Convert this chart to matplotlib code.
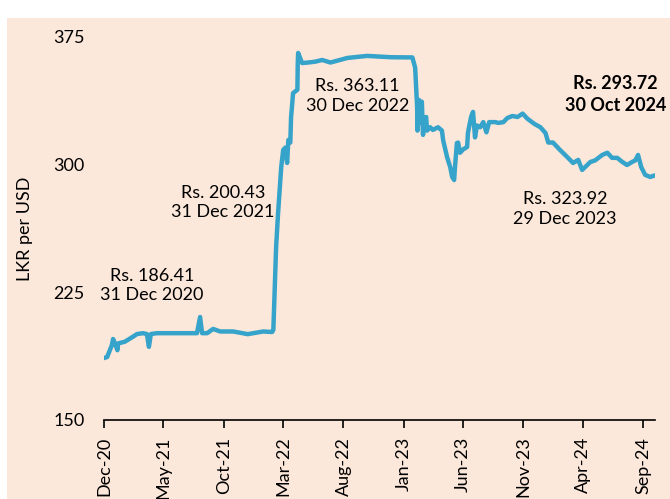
import matplotlib.pyplot as plt
import matplotlib.dates as mdates
import pandas as pd

# Tipo de cambio LKR por USD
fechas = [
    "2020-12-31", "2021-01-08", "2021-01-20", "2021-01-23", "2021-01-28", "2021-02-03",
    "2021-02-05", "2021-02-22", "2021-03-15", "2021-03-25", "2021-04-09", "2021-04-19",
    "2021-04-24", "2021-04-29", "2021-05-14", "2021-07-04", "2021-08-24", "2021-09-01",
    "2021-09-06", "2021-09-19", "2021-10-04", "2021-10-22", "2021-11-24", "2021-12-31",
    "2022-02-08", "2022-03-03", "2022-03-06", "2022-03-13", "2022-03-18", "2022-03-26",
    "2022-03-31", "2022-04-05", "2022-04-10", "2022-04-13", "2022-04-18", "2022-04-20",
    "2022-04-23", "2022-04-25", "2022-05-06", "2022-05-07", "2022-05-08", "2022-05-18",
    "2022-06-02", "2022-06-20", "2022-07-08", "2022-07-29", "2022-09-10", "2022-10-30",
    "2022-12-30", "2023-02-22", "2023-03-01", "2023-03-06", "2023-03-07", "2023-03-11",
    "2023-03-16", "2023-03-18", "2023-03-21", "2023-03-23", "2023-03-29", "2023-03-31",
    "2023-04-08", "2023-04-15", "2023-04-28", "2023-05-08", "2023-05-11", "2023-05-21",
    "2023-05-29", "2023-06-03", "2023-06-08", "2023-06-10", "2023-06-15", "2023-06-18",
    "2023-06-23", "2023-07-01", "2023-07-11", "2023-07-13", "2023-07-21", "2023-07-26",
    "2023-07-31", "2023-08-05", "2023-08-13", "2023-08-21", "2023-08-29", "2023-09-05",
    "2023-09-21", "2023-09-28", "2023-10-11", "2023-10-21", "2023-11-03", "2023-11-16",
    "2023-11-29", "2023-12-11", "2023-12-29", "2024-01-13", "2024-01-26", "2024-02-02",
    "2024-02-14", "2024-03-03", "2024-03-21", "2024-04-05", "2024-04-18", "2024-04-28",
    "2024-05-11", "2024-05-19", "2024-05-31", "2024-06-18", "2024-07-01", "2024-07-13",
    "2024-07-26", "2024-08-08", "2024-08-20", "2024-09-02", "2024-09-10", "2024-09-17",
    "2024-09-25", "2024-10-05", "2024-10-18", "2024-10-30",
]
tasas = [
    186.41, 187.0, 194.0, 197.6, 195.0, 191.0,
    195.0, 196.0, 199.0, 200.5, 201.0, 200.5,
    193.0, 200.5, 201.0, 201.0, 201.0, 210.5,
    201.0, 201.0, 203.5, 202.0, 202.0, 200.43,
    202.0, 201.7, 203.0, 251.6, 271.6, 298.6,
    308.6, 310.0, 301.0, 314.5, 313.0, 328.0,
    336.0, 342.0, 344.0, 360.0, 365.6, 359.7,
    360.0, 360.5, 361.5, 360.0, 362.7, 363.9,
    363.11, 363.0, 357.0, 334.0, 320.0, 338.0,
    324.5, 337.0, 317.5, 326.0, 328.0, 320.0,
    322.0, 320.4, 322.0, 320.0, 314.5, 304.5,
    298.6, 292.8, 291.0, 298.0, 312.7, 313.0,
    307.0, 309.0, 310.4, 318.6, 328.0, 331.0,
    316.0, 323.0, 322.0, 325.0, 319.0, 325.0,
    325.0, 324.5, 325.0, 327.4, 328.6, 328.0,
    330.0, 327.0, 323.92, 322.0, 318.6, 313.0,
    313.0, 308.6, 304.5, 301.0, 302.8, 296.9,
    299.8, 301.6, 302.5, 305.7, 307.0, 304.0,
    304.0, 301.6, 299.8, 301.6, 302.5, 305.7,
    298.6, 294.0, 292.8, 293.72,
]

# Etiquetas de los puntos destacados: (fecha del texto, valor del texto, texto, negrita)
etiquetas = [
    ("2021-05-02", 229.0, "Rs. 186.41\n31 Dec 2020", False),
    ("2021-10-29", 277.8, "Rs. 200.43\n31 Dec 2021", False),
    ("2022-10-05", 340.6, "Rs. 363.11\n30 Dec 2022", False),
    ("2024-03-16", 273.7, "Rs. 323.92\n29 Dec 2023", False),
    ("2024-07-21", 341.2, "Rs. 293.72\n30 Oct 2024", True),
]

ticks_x = pd.date_range("2020-12-31", "2024-10-30", freq="5ME")
ticks_y = [150, 225, 300, 375]

color_fondo = "#FCE8DA"
color_linea = "#36A3CA"

plt.rcParams['font.family'] = ['Lato', 'DejaVu Sans']

fig = plt.figure(figsize=(6.7, 4.99), dpi=100)
fig.patch.set_facecolor("white")

# Recuadro de fondo color durazno (ejes vacios detras del grafico)
fondo = fig.add_axes([7 / 670, 0, 1 - 7 / 670, 1 - 18 / 499], zorder=0)
fondo.set_facecolor(color_fondo)
fondo.set_xticks([])
fondo.set_yticks([])
for s in fondo.spines.values():
    s.set_visible(False)

ax = fig.add_axes([104 / 670, 1 - 420 / 499, 551 / 670, 383 / 499], zorder=1)
ax.set_facecolor("none")

x = pd.to_datetime(fechas)
ax.plot(x, tasas, color=color_linea, linewidth=3.2, solid_joinstyle="round")

ax.set_xlim(pd.Timestamp("2020-12-31"), pd.Timestamp("2024-10-30"))
ax.set_ylim(150, 375)
ax.set_xticks(ticks_x)
ax.xaxis.set_major_formatter(mdates.DateFormatter("%b-%y"))
ax.set_yticks(ticks_y)

for lado in ["top", "right", "left"]:
    ax.spines[lado].set_visible(False)
ax.spines["bottom"].set_linewidth(1.2)

ax.tick_params(axis="x", direction="out", length=6, width=1.2, pad=6,
               labelsize=13, labelrotation=90)
ax.tick_params(axis="y", length=0, pad=14, labelsize=13)

ax.set_ylabel("LKR per USD", fontsize=13)
ax.yaxis.set_label_coords(-0.129, 0.5)

for fecha, valor, texto, negrita in etiquetas:
    ax.text(pd.Timestamp(fecha), valor, texto, ha="center", va="center",
            fontsize=13, linespacing=1.3,
            fontweight="bold" if negrita else "normal")

plt.savefig("out.png", dpi=100, facecolor=fig.get_facecolor())
